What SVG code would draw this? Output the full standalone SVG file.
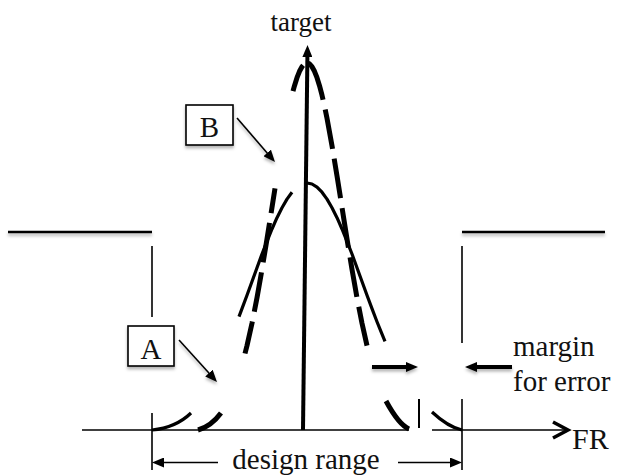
<svg xmlns="http://www.w3.org/2000/svg" width="618" height="475" viewBox="0 0 618 475">
  <style>
    .txt { font-family: "Liberation Serif", "Times New Roman", serif; fill: #111; }
    .thin { stroke: #000; stroke-width: 1.6; fill: none; }
    .rule { stroke: #000; stroke-width: 2.4; fill: none; }
    .bold { stroke: #000; stroke-width: 4; fill: none; }
    .solid-curve { stroke: #000; stroke-width: 3.2; fill: none; stroke-linecap: butt; stroke-linejoin: round; }
    .dash-curve { stroke: #000; stroke-width: 5; fill: none; stroke-linecap: butt; stroke-linejoin: round; }
    .box { fill: #fff; stroke: #000; stroke-width: 1.6; }
  </style>
  <defs>
    <marker id="head" viewBox="0 0 12 10" refX="1" refY="5" markerWidth="12" markerHeight="10" markerUnits="userSpaceOnUse" orient="auto">
      <path d="M0,0 L12,5 L0,10 Z" fill="#000"/>
    </marker>
    <!-- user-space region so that zero-height lines still get a shadow -->
    <filter id="shadow" filterUnits="userSpaceOnUse" x="0" y="0" width="618" height="475">
      <feDropShadow dx="0" dy="2.5" stdDeviation="1.5" flood-color="#000" flood-opacity="0.3"/>
    </filter>
  </defs>

  <!-- design limits: upper levels and boundaries -->
  <g id="limits">
    <line class="rule" x1="8" y1="232" x2="152" y2="232" filter="url(#shadow)"/>
    <line class="rule" x1="462" y1="232" x2="605" y2="232" filter="url(#shadow)"/>
    <line class="thin" x1="152" y1="246" x2="152" y2="317"/>
    <line class="thin" x1="152" y1="413" x2="152" y2="470"/>
    <line class="thin" x1="462" y1="246" x2="462" y2="343"/>
    <line class="thin" x1="462" y1="399" x2="462" y2="470"/>
  </g>

  <!-- wide distribution (solid) -->
  <g id="curve-A">
    <polyline class="solid-curve" points="292,192.2 287,199.1 282,207.7 277,217.7 272,229 267,241.3 262,254 257,267.8 252,281.5 247,295.3 242,308.6 239,316.6"/>
    <polyline class="solid-curve" points="307,183 312,184 317,187.1 322,192.2 327,199.1 332,207.7 337,217.7 342,229 347,241.3 352,254 357,267.8 362,281.5 367,295.3 372,308.6 377,321.7 381,331.6 385,341.3"/>
    <path class="solid-curve" d="M191,413 Q176,427.6 152,430"/>
    <path class="solid-curve" d="M432,412 Q448,427 462,430"/>
  </g>

  <!-- narrow distribution (dashed) -->
  <g id="curve-B">
    <polyline class="dash-curve" stroke-dasharray="40 10" stroke-dashoffset="15" points="275,188.4 272,207.4 267,239 262,269.4 257,297.7 252,323.2 247,345.6 245,353.5"/>
    <polyline class="dash-curve" stroke-dasharray="28 6 40 10 40 10 40 10 40 10 40 10 40 10 60" points="293,91.2 294.5,85.7 297,77.7 299.5,71.3 302,66.7 304.5,63.9 307,63 309.5,63.9 312,66.7 314.5,71.3 317,77.7 319.5,85.7 322,95.2 324.5,106.1 327,118.3 332,145.7 337,175.8 342,207.4 347,239 352,269.4 357,297.7 362,323.2 367,345.6"/>
    <path class="dash-curve" d="M221,413 Q211,426.4 198,430"/>
    <path class="dash-curve" d="M386,401 Q398.7,424.5 409,429"/>
  </g>

  <!-- axes -->
  <g id="axes">
    <line class="bold" x1="303" y1="430" x2="307.4" y2="56" marker-end="url(#head)"/>
    <line class="thin" x1="82" y1="430" x2="409" y2="430"/>
    <line class="thin" x1="432" y1="430" x2="566" y2="430"/>
    <polyline points="553,422 568,430 553,438" fill="none" stroke="#000" stroke-width="3.5" stroke-linejoin="miter"/>
    <line x1="419" y1="399" x2="419" y2="428" stroke="#000" stroke-width="2"/>
  </g>

  <!-- callout boxes -->
  <g id="label-B">
    <rect class="box" x="186" y="105" width="47" height="40" filter="url(#shadow)"/>
    <text class="txt" x="209.5" y="137" font-size="29" text-anchor="middle">B</text>
  </g>
  <g id="label-A">
    <rect class="box" x="128" y="326" width="46" height="40" filter="url(#shadow)"/>
    <text class="txt" x="151" y="359" font-size="29" text-anchor="middle">A</text>
  </g>

  <!-- pointers and dimension arrows -->
  <g id="connectors">
    <line class="thin" x1="237" y1="118" x2="267.8" y2="153.7" marker-end="url(#head)" filter="url(#shadow)"/>
    <line class="thin" x1="179" y1="340" x2="209.6" y2="373.8" marker-end="url(#head)" filter="url(#shadow)"/>
    <line class="thin" x1="218" y1="462.5" x2="163" y2="462.5" marker-end="url(#head)"/>
    <line class="thin" x1="398" y1="462.5" x2="451" y2="462.5" marker-end="url(#head)"/>
    <line class="bold" x1="372" y1="367" x2="407" y2="367" marker-end="url(#head)" filter="url(#shadow)"/>
    <line class="bold" x1="512" y1="367" x2="476" y2="367" marker-end="url(#head)" filter="url(#shadow)"/>
  </g>

  <!-- labels -->
  <g id="labels">
    <text class="txt" x="301" y="31" font-size="27" text-anchor="middle">target</text>
    <text class="txt" x="306" y="469" font-size="29" text-anchor="middle">design range</text>
    <text class="txt" x="513" y="356" font-size="29">margin</text>
    <text class="txt" x="513" y="391" font-size="29">for error</text>
    <text class="txt" x="572" y="449" font-size="30">FR</text>
  </g>
</svg>
